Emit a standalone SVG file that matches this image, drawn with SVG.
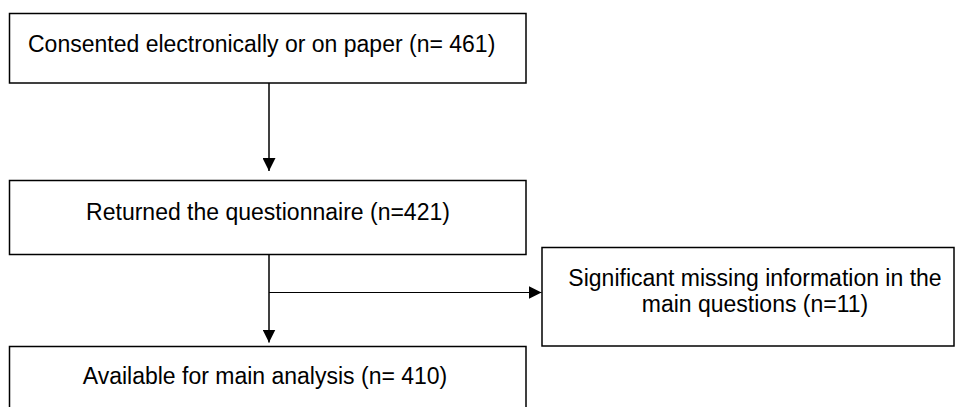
<svg xmlns="http://www.w3.org/2000/svg" width="956" height="407" viewBox="0 0 956 407">
  <defs>
    <marker id="arr" markerUnits="userSpaceOnUse" markerWidth="13" markerHeight="13" refX="13" refY="6.5" orient="auto">
      <path d="M0,0 L13,6.5 L0,13 Z" fill="#000"/>
    </marker>
    <style>
      .box { fill: #fff; stroke: #000; stroke-width: 1.5; }
      .lbl { font-family: "Liberation Sans", Arial, sans-serif; font-size: 23px; fill: #000; }
      .con { stroke: #000; stroke-width: 1.5; fill: none; }
      .thin { stroke-width: 1.1; }
    </style>
  </defs>
  <rect width="956" height="407" fill="#fff"/>
  <g id="connectors">
    <line class="con" x1="269" y1="83" x2="269" y2="171" marker-end="url(#arr)"/>
    <line class="con" x1="269" y1="255" x2="269" y2="342.5" marker-end="url(#arr)"/>
    <line class="con thin" x1="269" y1="292.5" x2="541.5" y2="292.5" marker-end="url(#arr)"/>
  </g>
  <g id="consented">
    <rect class="box" x="9.5" y="13.5" width="516.5" height="69.5"/>
    <text class="lbl" x="28" y="51.7">Consented electronically or on paper (n= 461)</text>
  </g>
  <g id="returned">
    <rect class="box" x="9.5" y="180.5" width="516.5" height="74"/>
    <text class="lbl" x="268" y="220.3" text-anchor="middle">Returned the questionnaire (n=421)</text>
  </g>
  <g id="missing">
    <rect class="box" x="542" y="247.5" width="412" height="98.5"/>
    <text class="lbl" x="755" y="285.7" text-anchor="middle">Significant missing information in the</text>
    <text class="lbl" x="755" y="311.7" text-anchor="middle">main questions (n=11)</text>
  </g>
  <g id="available">
    <rect class="box" x="9.5" y="346.5" width="516.5" height="80"/>
    <text class="lbl" x="265" y="384.3" text-anchor="middle">Available for main analysis (n= 410)</text>
  </g>
</svg>
